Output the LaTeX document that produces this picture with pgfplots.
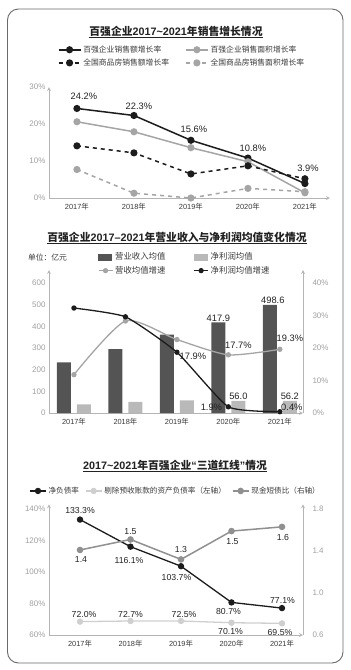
\documentclass[border=0pt]{standalone}
\usepackage{pgfplots}
\pgfplotsset{compat=1.18}
\usepackage{fontspec}
\setmainfont{Liberation Sans}
\newfontfamily\cjk{Noto Sans CJK SC}
\definecolor{cblack}{HTML}{1C1C1C}
\definecolor{cgray}{HTML}{A5A5A5}
\definecolor{clight}{HTML}{CFCFCF}
\definecolor{cmid}{HTML}{909090}
\definecolor{cdark}{HTML}{545454}
\definecolor{cbar}{HTML}{B9B9B9}
\definecolor{ctick}{HTML}{A0A0A0}
\definecolor{cxt}{HTML}{3A3A3A}
\definecolor{caxis}{HTML}{B4B4B4}
\definecolor{cframe}{HTML}{6A6A6A}
\definecolor{clab}{HTML}{222222}
\pgfplotsset{
  base/.style={
    scale only axis, clip=false,
    axis line style={caxis, line width=0.8pt, -},
    major tick length=0pt,
    yticklabel style={ctick, font=\fontsize{8}{9}\selectfont},
    xticklabel style={cxt, font=\fontsize{7.4}{8}\selectfont, yshift=-2pt},
    /pgf/number format/assume math mode=true,
    xtick={2017,2018,2019,2020,2021},
    xticklabels={2017{\cjk 年},2018{\cjk 年},2019{\cjk 年},2020{\cjk 年},2021{\cjk 年}},
    legend cell align=left,
  },
}
\tikzset{lab/.style={font=\fontsize{9.3}{10}\selectfont, text=clab, inner sep=0pt},
  labs/.style={font=\fontsize{8.7}{10}\selectfont, text=clab, inner sep=0pt}}
\begin{document}
\begin{tikzpicture}
\draw[cframe, line width=0.9pt, rounded corners=11pt] (7.5pt,-9pt) rectangle (343pt,-663pt);
% titles
\node[font=\fontsize{10.8}{12}\selectfont\bfseries, text=clab] at (176pt,-32pt) {\underline{{\cjk 百强企业}2017\textasciitilde2021{\cjk 年销售增长情况}}};
\node[font=\fontsize{10.8}{12}\selectfont\bfseries, text=clab] at (177pt,-238pt) {\underline{{\cjk 百强企业}2017--2021{\cjk 年营业收入与净利润均值变化情况}}};
\node[font=\fontsize{10.8}{12}\selectfont\bfseries, text=clab] at (175pt,-466pt) {\underline{2017\textasciitilde2021{\cjk 年百强企业}“{\cjk 三道红线}”{\cjk 情况}}};
\node[font=\fontsize{7.8}{9}\selectfont, text=cxt] at (47.5pt,-257pt) {\cjk 单位：亿元};

% ---------- Panel 1 ----------
\begin{axis}[base, at={(49pt,-198pt)}, anchor=south west, width=281pt, height=111pt,
  xmin=2016.51, xmax=2021.44, ymin=0, ymax=30,
  axis x line=bottom, axis y line=left,
  ytick={0,10,20,30}, yticklabel={\pgfmathprintnumber{\tick}\%},
  legend columns=2,
  legend style={at={(axis description cs:0.02,1.41)}, anchor=north west, draw=none, fill=none,
    font=\fontsize{7.8}{9}\selectfont, text=cxt, row sep=1pt,
    /tikz/every even column/.append style={column sep=14pt}},
  legend image code/.code={\draw[mark repeat=2,mark phase=2,#1] plot coordinates {(0pt,0pt) (11pt,0pt) (22pt,0pt)};},
]
\addplot[cblack, line width=1.5pt, mark=*, mark size=2.8pt] coordinates {(2017,24.2)(2018,22.3)(2019,15.6)(2020,10.8)(2021,3.9)};
\addlegendentry{\cjk 百强企业销售额增长率}
\addplot[cgray, line width=1.5pt, mark=*, mark size=2.8pt] coordinates {(2017,20.6)(2018,17.9)(2019,13.6)(2020,9.8)(2021,1.4)};
\addlegendentry{\cjk 百强企业销售面积增长率}
\addplot[cblack, line width=1.5pt, dash pattern=on 4pt off 4pt, mark=*, mark size=2.8pt, mark options={solid}] coordinates {(2017,14.1)(2018,12.2)(2019,6.5)(2020,8.7)(2021,5.2)};
\addlegendentry{\cjk 全国商品房销售额增长率}
\addplot[cgray, line width=1.5pt, dash pattern=on 4pt off 4pt, mark=*, mark size=2.8pt, mark options={solid}] coordinates {(2017,7.7)(2018,1.3)(2019,0)(2020,2.6)(2021,1.7)};
\addlegendentry{\cjk 全国商品房销售面积增长率}
\node[lab, xshift=7pt, yshift=12pt] at (axis cs:2017,24.2) {24.2\%};
\node[lab, xshift=5pt, yshift=9pt] at (axis cs:2018,22.3) {22.3\%};
\node[lab, xshift=3pt, yshift=11pt] at (axis cs:2019,15.6) {15.6\%};
\node[lab, xshift=5pt, yshift=10pt] at (axis cs:2020,10.8) {10.8\%};
\node[lab, xshift=3pt, yshift=15.5pt] at (axis cs:2021,3.9) {3.9\%};
\end{axis}

% ---------- Panel 2 ----------
\begin{axis}[base, at={(49pt,-413pt)}, anchor=south west, width=254pt, height=143pt,
  xmin=2016.515, xmax=2021.45, ymin=0, ymax=660,
  axis x line=bottom, axis y line=left, ytick={0,100,...,600},
  legend columns=2,
  legend style={at={(axis description cs:0.18,1.15)}, anchor=north west, draw=none, fill=none,
    font=\fontsize{8.4}{9}\selectfont, text=cxt, row sep=1pt,
    /tikz/every even column/.append style={column sep=26pt}},
  legend image code/.code={\draw[mark repeat=2,mark phase=2,#1] plot coordinates {(0pt,0pt) (7pt,0pt) (14pt,0pt)};},
]
\addplot[ybar, bar width=14pt, bar shift=-10pt, fill=cdark, draw=none, forget plot] coordinates {(2017,234)(2018,295)(2019,362)(2020,417.9)(2021,498.6)};
\addplot[ybar, bar width=14pt, bar shift=10pt, fill=cbar, draw=none, forget plot] coordinates {(2017,40)(2018,51)(2019,58)(2020,56.0)(2021,56.2)};
\addlegendimage{legend image code/.code={\fill[cdark] (0pt,-2.8pt) rectangle (13pt,2.8pt);}}
\addlegendentry{\cjk 营业收入均值}
\addlegendimage{legend image code/.code={\fill[cbar] (0pt,-2.8pt) rectangle (13pt,2.8pt);}}
\addlegendentry{\cjk 净利润均值}
\addlegendimage{cgray, line width=1.2pt, mark=*, mark size=2pt}
\addlegendentry{\cjk 营收均值增速}
\addlegendimage{cblack, line width=1.2pt, mark=*, mark size=2pt}
\addlegendentry{\cjk 净利润均值增速}
\node[lab, anchor=south, xshift=-10pt, yshift=1pt] at (axis cs:2020,417.9) {417.9};
\node[lab, anchor=south, xshift=-7pt, yshift=1pt] at (axis cs:2021,498.6) {498.6};
\node[lab, anchor=south, xshift=10pt, yshift=1pt] at (axis cs:2020,56.0) {56.0};
\node[lab, anchor=south, xshift=10pt, yshift=1pt] at (axis cs:2021,56.2) {56.2};
\end{axis}
\begin{axis}[base, at={(49pt,-413pt)}, anchor=south west, width=254pt, height=143pt,
  xmin=2016.515, xmax=2021.45, ymin=0, ymax=44,
  axis y line=right, axis x line=none, xtick=\empty,
  ytick={0,10,20,30,40}, yticklabel={\pgfmathprintnumber{\tick}\%},
  yticklabel style={xshift=6pt}]
\addplot[cgray, line width=1.3pt, smooth, tension=0.4, mark=*, mark size=2pt] coordinates {(2017,11.8)(2018,28.3)(2019,22.6)(2020,17.9)(2021,19.6)};
\addplot[cblack, line width=1.3pt, smooth, tension=0.3, mark=*, mark size=2pt] coordinates {(2017,32.3)(2018,29.6)(2019,18.7)(2020,1.9)(2021,0.4)};
\node[lab, xshift=16pt, yshift=-4pt] at (axis cs:2019,18.7) {17.9\%};
\node[lab, xshift=-17pt, yshift=0pt] at (axis cs:2020,1.9) {1.9\%};
\node[lab, xshift=12pt, yshift=4.7pt] at (axis cs:2021,0.4) {0.4\%};
\node[lab, xshift=10pt, yshift=10pt] at (axis cs:2020,17.9) {17.7\%};
\node[lab, xshift=10pt, yshift=11pt] at (axis cs:2021,19.6) {19.3\%};
\end{axis}

% ---------- Panel 3 ----------
\begin{axis}[base, at={(49pt,-635pt)}, anchor=south west, width=254pt, height=130.7pt,
  xmin=2016.386, xmax=2021.416, ymin=60, ymax=143,
  axis x line=bottom, axis y line=left,
  ytick={60,80,...,140}, yticklabel={\pgfmathprintnumber{\tick}\%},
  legend columns=3,
  legend style={at={(axis description cs:-0.09,1.165)}, anchor=north west, draw=none, fill=none,
    font=\fontsize{7.6}{9}\selectfont, text=cxt,
    /tikz/every even column/.append style={column sep=4pt}},
  legend image code/.code={\draw[mark repeat=2,mark phase=2,#1] plot coordinates {(0pt,0pt) (8pt,0pt) (16pt,0pt)};},
]
\addplot[cblack, line width=1.3pt, mark=*, mark size=2.5pt] coordinates {(2017,133.3)(2018,116.1)(2019,103.7)(2020,80.7)(2021,77.1)};
\addlegendentry{\cjk 净负债率}
\addplot[clight, line width=1.3pt, mark=*, mark size=2.5pt] coordinates {(2017,68.5)(2018,68.9)(2019,68.9)(2020,67.8)(2021,67.4)};
\addlegendentry{\cjk 剔除预收账款的资产负债率（左轴）}
\addlegendimage{cmid, line width=1.5pt, mark=*, mark size=2.5pt}
\addlegendentry{\cjk 现金短债比（右轴）}
\node[labs, yshift=9pt] at (axis cs:2017,133.3) {133.3\%};
\node[labs, xshift=-1.5pt, yshift=-13.4pt] at (axis cs:2018,116.1) {116.1\%};
\node[labs, xshift=-4.5pt, yshift=-11.5pt] at (axis cs:2019,103.7) {103.7\%};
\node[labs, xshift=-3pt, yshift=-9pt] at (axis cs:2020,80.7) {80.7\%};
\node[labs, xshift=0.5pt, yshift=8pt] at (axis cs:2021,77.1) {77.1\%};
\node[labs, xshift=4pt, yshift=7.6pt] at (axis cs:2017,68.5) {72.0\%};
\node[labs, yshift=7pt] at (axis cs:2018,68.9) {72.7\%};
\node[labs, xshift=3pt, yshift=6pt] at (axis cs:2019,68.9) {72.5\%};
\node[labs, xshift=-1pt, yshift=-9pt] at (axis cs:2020,67.8) {70.1\%};
\node[labs, xshift=-2pt, yshift=-9pt] at (axis cs:2021,67.4) {69.5\%};
\end{axis}
\begin{axis}[base, at={(49pt,-635pt)}, anchor=south west, width=254pt, height=130.7pt,
  xmin=2016.386, xmax=2021.416, ymin=0.6, ymax=1.845,
  axis y line=right, axis x line=none, xtick=\empty,
  ytick={0.6,1.0,1.4,1.8},
  yticklabel style={xshift=6pt, /pgf/number format/.cd, fixed, fixed zerofill, precision=1}]
\addplot[cmid, line width=1.5pt, mark=*, mark size=2.5pt] coordinates {(2017,1.41)(2018,1.51)(2019,1.32)(2020,1.59)(2021,1.63)};
\node[labs, xshift=1pt, yshift=-10pt] at (axis cs:2017,1.41) {1.4};
\node[labs, yshift=8pt] at (axis cs:2018,1.51) {1.5};
\node[labs, yshift=10pt] at (axis cs:2019,1.32) {1.3};
\node[labs, xshift=1pt, yshift=-10pt] at (axis cs:2020,1.59) {1.5};
\node[labs, xshift=1pt, yshift=-11pt] at (axis cs:2021,1.63) {1.6};
\end{axis}
\pgfresetboundingbox
\path (0pt,0pt) rectangle (351pt,-670pt);
\end{tikzpicture}
\end{document}
